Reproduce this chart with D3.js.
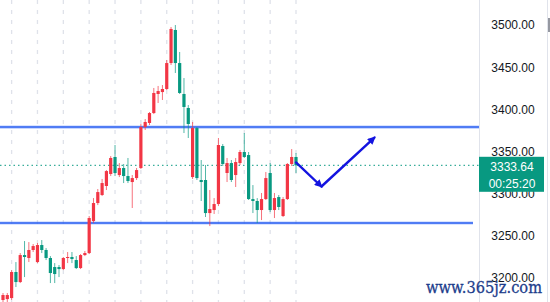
<!DOCTYPE html>
<html>
<head>
<meta charset="utf-8">
<script src="https://cdn.jsdelivr.net/npm/d3@7"></script>
<style>
  html, body { margin: 0; padding: 0; background: #ffffff; }
  svg { display: block; }
</style>
</head>
<body>
<svg id="chart" width="550" height="302"></svg>
<script>
// ---- data (prices) ----
const opens  = [3173.9,3175.0,3176.2,3207.1,3195.2,3227.2,3223.7,3233.2,3218.9,3239.1,3233.2,3223.7,3213.0,3213.0,3210.6,3223.7,3224.9,3221.3,3211.8,3227.2,3229.6,3267.5,3288.9,3298.4,3309.1,3323.3,3343.5,3322.1,3330.4,3320.9,3313.8,3318.5,3330.4,3379.0,3383.8,3395.6,3418.2,3420.5,3424.1,3454.9,3494.1,3454.9,3418.2,3401.6,3319.7,3377.8,3316.2,3316.2,3277.0,3280.6,3287.7,3356.5,3324.5,3336.3,3322.1,3336.3,3349.4,3345.8,3293.6,3291.3,3280.6,3293.6,3324.5,3280.6,3296.0,3273.5,3293.6,3335.2,3343.5];
const highs  = [3182.2,3182.2,3209.4,3218.9,3229.6,3243.8,3242.6,3240.3,3241.5,3245.0,3235.5,3226.0,3217.7,3215.4,3224.9,3230.8,3230.8,3226.0,3228.4,3232.0,3273.5,3294.8,3305.5,3317.4,3328.0,3344.6,3357.7,3336.3,3335.2,3342.3,3322.1,3330.4,3382.6,3388.5,3396.8,3425.3,3427.7,3428.8,3458.5,3497.6,3500.0,3468.0,3437.1,3405.1,3385.0,3379.0,3339.9,3334.0,3304.3,3294.8,3366.0,3358.9,3342.3,3339.9,3342.3,3351.8,3371.9,3349.4,3310.2,3294.8,3300.8,3325.7,3336.3,3300.8,3298.4,3296.0,3336.3,3352.9,3348.2];
const lows   = [3171.5,3171.5,3173.9,3189.3,3194.0,3201.1,3218.9,3230.8,3217.7,3229.6,3221.3,3194.0,3194.0,3201.1,3209.4,3217.7,3217.7,3210.6,3210.6,3226.0,3228.4,3265.2,3286.5,3297.2,3304.3,3320.9,3320.9,3319.7,3312.6,3312.6,3283.0,3316.2,3329.2,3375.5,3381.4,3394.4,3407.5,3411.1,3422.9,3452.6,3443.1,3418.2,3371.9,3366.0,3317.4,3316.2,3291.3,3272.3,3261.6,3275.9,3285.3,3332.8,3313.8,3313.8,3307.9,3334.0,3342.3,3292.5,3277.0,3265.2,3268.7,3292.5,3278.2,3271.1,3280.6,3272.3,3292.5,3332.8,3324.5];
const closes = [3179.8,3179.8,3207.1,3195.2,3227.2,3224.9,3233.2,3237.9,3239.1,3233.2,3223.7,3205.9,3204.7,3210.6,3223.7,3224.9,3222.5,3211.8,3227.2,3229.6,3271.1,3288.9,3301.9,3312.6,3326.8,3342.3,3324.5,3330.4,3320.9,3315.0,3318.5,3328.0,3379.0,3385.0,3395.6,3419.4,3421.7,3424.1,3454.9,3495.3,3454.9,3419.4,3402.8,3382.6,3377.8,3318.5,3313.8,3277.0,3281.8,3287.7,3357.7,3335.2,3336.3,3316.2,3337.5,3349.4,3343.5,3293.6,3291.3,3280.6,3293.6,3318.5,3280.6,3294.8,3284.2,3293.6,3335.2,3343.5,3333.64];

const priceTicks = [3200, 3250, 3300, 3350, 3400, 3450, 3500];
const lastPrice = 3333.64;
const lastPriceLabel = "3333.64";
const countdownLabel = "00:25:20";
const resistance = 3379.0;
const support = 3265.2;
// hand-drawn forecast arrow, in (bar index, price)
const arrowLeg1 = [[68, 3337.0], [73.9, 3308.5]];
const arrowLeg2 = [[73.9, 3308.5], [86.2, 3366.5]];
const watermark = "www.365jz.com";

// ---- chart ----
const W = 550, H = 302;
const axisX = 479;
const svg = d3.select("#chart");
const UP = "#f23645", DOWN = "#089981";

const x = d3.scaleLinear().domain([0, opens.length - 1]).range([3, 296]);
const y = d3.scaleLinear().domain([3200, 3500]).range([278, 25]);

svg.append("rect").attr("width", W).attr("height", H).attr("fill", "#ffffff");

// vertical dashed time grid, every 6 bars
const gridIdx = d3.range(2, opens.length, 6);
svg.append("g").selectAll("line").data(gridIdx).join("line")
  .attr("x1", d => x(d)).attr("x2", d => x(d))
  .attr("y1", 0).attr("y2", H)
  .attr("stroke", "#dfe2ea").attr("stroke-width", 1.3)
  .attr("stroke-dasharray", "4,6");

// horizontal support/resistance lines
[[resistance, axisX + 1], [support, 473]].forEach(([p, x2]) => {
  svg.append("line")
    .attr("x1", 0).attr("x2", x2)
    .attr("y1", y(p)).attr("y2", y(p))
    .attr("stroke", "#2962ff").attr("stroke-opacity", 0.35).attr("stroke-width", 3.2);
  svg.append("line")
    .attr("x1", 0).attr("x2", x2)
    .attr("y1", y(p)).attr("y2", y(p))
    .attr("stroke", "#2f63f0").attr("stroke-width", 1.6);
});

// last price dotted line
svg.append("line")
  .attr("x1", 0).attr("x2", axisX)
  .attr("y1", y(lastPrice)).attr("y2", y(lastPrice))
  .attr("stroke", DOWN).attr("stroke-width", 1)
  .attr("stroke-dasharray", "1.5,3");

// candles
const idx = d3.range(opens.length);
const cg = svg.append("g");
cg.selectAll("line.wick").data(idx).join("line")
  .attr("class", "wick")
  .attr("x1", i => x(i)).attr("x2", i => x(i))
  .attr("y1", i => y(highs[i])).attr("y2", i => y(lows[i]))
  .attr("stroke", i => closes[i] >= opens[i] ? UP : DOWN)
  .attr("stroke-opacity", 0.7)
  .attr("stroke-width", 1);
cg.selectAll("rect.body").data(idx).join("rect")
  .attr("class", "body")
  .attr("x", i => x(i) - 1.6)
  .attr("width", 3.2)
  .attr("y", i => y(Math.max(opens[i], closes[i])))
  .attr("height", i => Math.max(1, Math.abs(y(opens[i]) - y(closes[i]))))
  .attr("fill", i => closes[i] >= opens[i] ? UP : DOWN);

// forecast arrow
const defs = svg.append("defs");
defs.append("marker")
  .attr("id", "ah").attr("viewBox", "0 0 10 10")
  .attr("refX", 8).attr("refY", 5)
  .attr("markerWidth", 9).attr("markerHeight", 8)
  .attr("markerUnits", "userSpaceOnUse")
  .attr("orient", "auto")
  .append("path").attr("d", "M0,0 L10,5 L0,10 Z").attr("fill", "#1414e0");
const lineGen = d3.line().x(d => x(d[0])).y(d => y(d[1]));
[arrowLeg1, arrowLeg2].forEach(leg => {
  svg.append("path")
    .attr("d", lineGen(leg))
    .attr("fill", "none")
    .attr("stroke", "#1414e0")
    .attr("stroke-width", 2.4)
    .attr("stroke-linecap", "round")
    .attr("marker-end", "url(#ah)");
});

// right price axis
svg.append("rect").attr("x", axisX).attr("y", 0).attr("width", W - axisX).attr("height", H).attr("fill", "#ffffff");
svg.append("line").attr("x1", axisX + 0.5).attr("x2", axisX + 0.5).attr("y1", 0).attr("y2", H)
  .attr("stroke", "#e0e3eb").attr("stroke-width", 1);
svg.append("line").attr("x1", 547.5).attr("x2", 547.5).attr("y1", 0).attr("y2", H)
  .attr("stroke", "#e0e3eb").attr("stroke-width", 1);
svg.append("rect").attr("x", 548).attr("y", 18).attr("width", 2).attr("height", 14).attr("fill", "#9598a1");

const axis = d3.axisRight(y).tickValues(priceTicks).tickFormat(d3.format(".2f")).tickSize(0);
const ag = svg.append("g").attr("transform", `translate(${axisX},0)`).call(axis);
ag.select(".domain").remove();
ag.selectAll("text")
  .attr("x", 34).attr("text-anchor", "middle")
  .attr("font-family", "'Liberation Sans', Arial, sans-serif")
  .attr("font-size", 12).attr("fill", "#131722");

// last price label box
const boxTop = y(lastPrice) - 8.5;
svg.append("rect").attr("x", axisX).attr("y", boxTop).attr("width", 65).attr("height", 35)
  .attr("fill", DOWN);
svg.append("text").attr("x", axisX + 33).attr("y", boxTop + 14)
  .attr("text-anchor", "middle")
  .attr("font-family", "'Liberation Sans', Arial, sans-serif")
  .attr("font-size", 12).attr("fill", "#ffffff").text(lastPriceLabel);
svg.append("text").attr("x", axisX + 33).attr("y", boxTop + 31)
  .attr("text-anchor", "middle")
  .attr("font-family", "'Liberation Sans', Arial, sans-serif")
  .attr("font-size", 12).attr("fill", "#ffffff").text(countdownLabel);

// watermark
svg.append("text").attr("x", 426).attr("y", 293)
  .attr("font-family", "'DejaVu Serif', serif")
  .attr("font-size", 16)
  .attr("textLength", 116).attr("lengthAdjust", "spacingAndGlyphs")
  .attr("fill", "#1d3d8c").attr("stroke", "#1d3d8c").attr("stroke-width", 0.3)
  .text(watermark);
</script>
</body>
</html>
